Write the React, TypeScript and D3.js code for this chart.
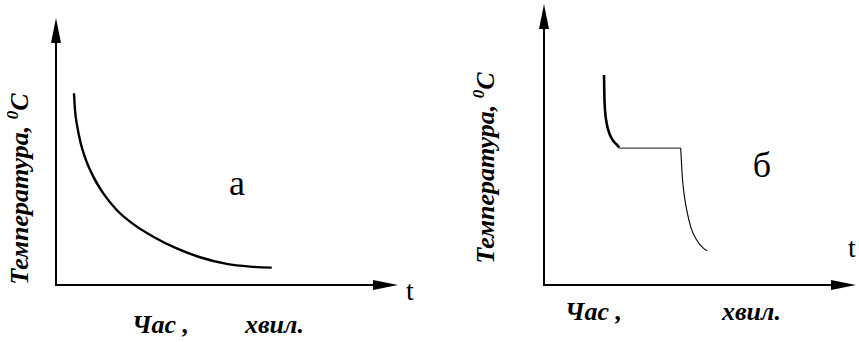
import React from 'react';
import * as d3 from 'd3';

// Panel "а": monotonic cooling curve (time, temperature)
const curveATime = [0.526, 0.556, 0.623, 0.722, 0.877, 1.091, 1.383, 1.775, 2.26, 2.845, 3.529, 4.211, 4.991, 5.673, 6.307];
const curveATemp = [71.8, 65.5, 59.3, 53.1, 46.8, 40.6, 34.3, 28.1, 22.8, 18.1, 13.7, 10.4, 7.9, 6.9, 6.5];

// Panel "б": cooling, plateau (crystallization), cooling after
const coolBTime = [1.923, 1.933, 1.955, 2.01, 2.093, 2.202, 2.308, 2.413];
const coolBTemp = [74.7, 68.2, 62.3, 57.5, 54.0, 51.6, 50.2, 48.9];
const plateauBTime = [2.413, 4.381];
const plateauBTemp = [48.7, 48.7];
const afterBTime = [4.381, 4.401, 4.433, 4.487, 4.574, 4.702, 4.894, 5.106, 5.234];
const afterBTemp = [48.7, 44.5, 38.5, 32.6, 26.7, 20.7, 16.0, 13.1, 12.2];

const yTitleMain = 'Температура, ';
const yTitleSup = '0';
const yTitleUnit = 'C';
const xTitleWord = 'Час ,';
const xTitleUnit = 'хвил.';
const axisTLabel = 't';
const panelLabels = ['а', 'б'];

const SERIF = 'Liberation Serif';

type Pt = [number, number];
const zip = (a: number[], b: number[]): Pt[] => a.map((v, i) => [v, b[i]]);

function Panel({
  xr, yr, series, label, labelPos, tPos, yTitleX, yTitleY, xWordX, xUnitX, xTitleY,
}: {
  xr: [number, number]; yr: [number, number];
  series: { pts: Pt[]; w: number; color: string }[];
  label: string; labelPos: [number, number]; tPos: [number, number];
  yTitleX: number; yTitleY: number; xWordX: number; xUnitX: number; xTitleY: number;
}) {
  const x = d3.scaleLinear().domain([0, 10]).range(xr);
  const y = d3.scaleLinear().domain([0, 100]).range(yr);
  const line = d3.line<Pt>().x(d => x(d[0])).y(d => y(d[1])).curve(d3.curveMonotoneX);
  const x0 = x(0), y0 = y(0), xTip = x(10), yTip = y(100);
  const ah = 25, aw = 5;
  return (
    <g>
      <line x1={x0} y1={y0} x2={x0} y2={yTip + ah} stroke="#000" strokeWidth={2} />
      <line x1={x0 - 1} y1={y0} x2={xTip - ah} y2={y0} stroke="#000" strokeWidth={2} />
      <path d={`M${x0},${yTip} L${x0 - aw},${yTip + ah} L${x0 + aw},${yTip + ah} Z`} fill="#000" />
      <path d={`M${xTip},${y0} L${xTip - ah},${y0 - aw} L${xTip - ah},${y0 + aw} Z`} fill="#000" />
      {series.map((s, i) => (
        <path key={i} d={line(s.pts) || ''} fill="none" stroke={s.color} strokeWidth={s.w} strokeLinecap="butt" />
      ))}
      <text x={labelPos[0]} y={labelPos[1]} fontFamily={SERIF} fontSize={36} textAnchor="middle">{label}</text>
      <text x={tPos[0]} y={tPos[1]} fontFamily={SERIF} fontSize={28}>{axisTLabel}</text>
      <text transform={`translate(${yTitleX},${yTitleY}) rotate(-90)`} textAnchor="middle"
        fontFamily={SERIF} fontSize={26} fontWeight="bold" fontStyle="italic">
        {yTitleMain}
        <tspan fontSize={17} dy={-10}>{yTitleSup}</tspan>
        <tspan dy={10}>{yTitleUnit}</tspan>
      </text>
      <text x={xWordX} y={xTitleY} fontFamily={SERIF} fontSize={26} fontWeight="bold" fontStyle="italic">{xTitleWord}</text>
      <text x={xUnitX} y={xTitleY} fontFamily={SERIF} fontSize={26} fontWeight="bold" fontStyle="italic">{xTitleUnit}</text>
    </g>
  );
}

export default function App() {
  return (
    <svg width={859} height={342} style={{ position: 'absolute', left: 0, top: 0, background: '#fff' }}>
      <rect width={859} height={342} fill="#fff" />
      <Panel
        xr={[56, 398]} yr={[285, 18]}
        series={[{ pts: zip(curveATime, curveATemp), w: 2.4, color: '#000' }]}
        label={panelLabels[0]} labelPos={[237, 195]} tPos={[406, 300]}
        yTitleX={28} yTitleY={189} xWordX={132} xUnitX={245} xTitleY={333}
      />
      <Panel
        xr={[544, 856]} yr={[285, 4]}
        series={[
          { pts: zip(coolBTime, coolBTemp), w: 2.6, color: '#000' },
          { pts: zip(plateauBTime, plateauBTemp), w: 1.4, color: '#444' },
          { pts: zip(afterBTime, afterBTemp), w: 1.1, color: '#000' },
        ]}
        label={panelLabels[1]} labelPos={[762, 177]} tPos={[848, 257]}
        yTitleX={494} yTitleY={168} xWordX={565} xUnitX={722} xTitleY={320}
      />
    </svg>
  );
}
